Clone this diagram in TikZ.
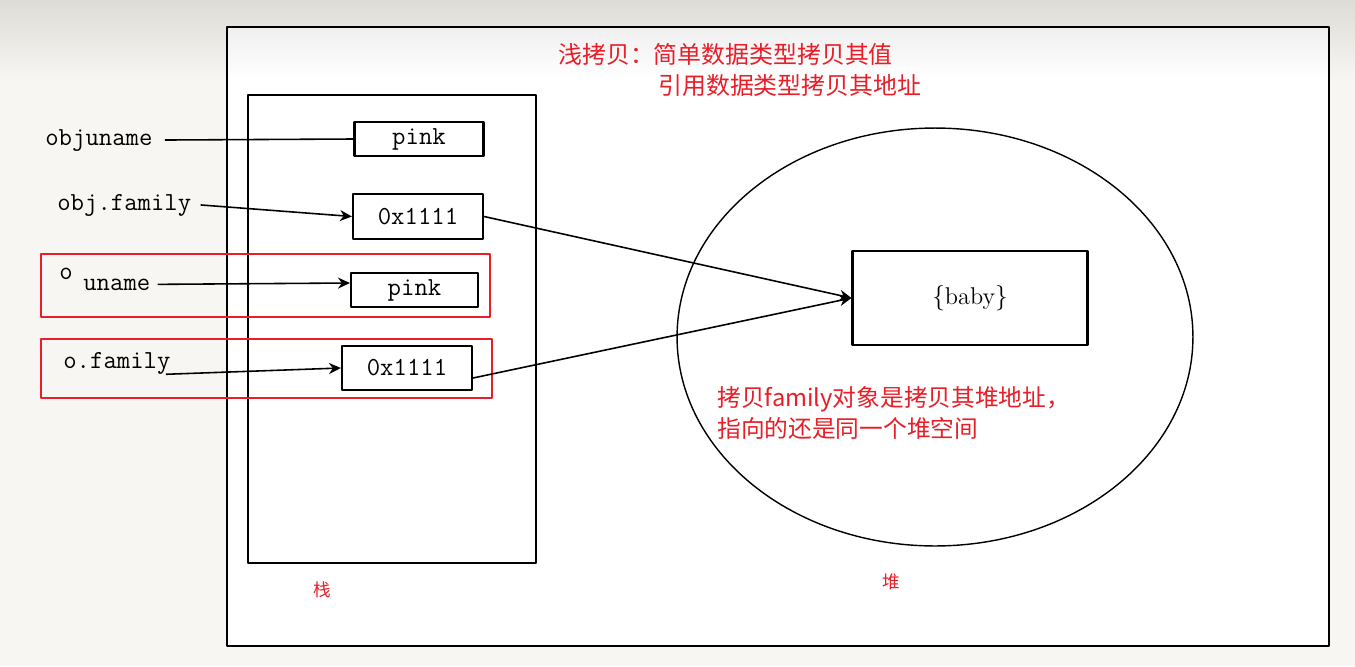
\documentclass[tikz,border=0pt]{standalone}
\usepackage{fontspec}
\newfontfamily\cjk{Noto Sans CJK SC}
\usetikzlibrary{arrows.meta}
\definecolor{notered}{RGB}{232,30,40}
\definecolor{pagebg}{RGB}{248,246,242}
\definecolor{pagetop}{RGB}{222,220,215}
\tikzset{
  cell/.style={draw, line width=1.2pt, inner sep=0pt, font=\fontsize{14.8}{16}\ttfamily},
  var/.style={anchor=base west, inner sep=0pt, font=\fontsize{14.8}{16}\ttfamily},
  note/.style={anchor=base west, inner sep=0pt, text=notered, font=\fontsize{13.5}{16}\cjk},
  group/.style={draw=notered, line width=1.1pt},
  link/.style={line width=0.9pt, -{Stealth[length=0.24cm,width=0.22cm]}},
}
\begin{document}
\begin{tikzpicture}[x=0.02cm, y=-0.02cm, line join=round]
			
			\useasboundingbox (0,0) rectangle (1355,666);
			\fill[pagebg] (0,0) rectangle (1355,666);
			\shade[top color=pagetop, bottom color=pagebg] (0,0) rectangle (1355,80);
			%\draw[gray!10] (0,0) grid[step=50] (1355,666);
			\fill[white] (227,27) rectangle (1329,646);
			\shade[top color=black!6, bottom color=white] (227,27) rectangle (1329,80);
			\draw[line width=1.2pt] (227,27) rectangle (1329,646);
			
			% stack and heap
			\draw[line width=1.2pt] (248,95) rectangle (536,563);
			\draw[line width=0.8pt] (935,337) ellipse (5.16cm and 4.18cm);
			\draw[group] (41,254) rectangle (490,317);
			\draw[group] (41,339) rectangle (492,398);
			
			\node[cell, minimum width=2.58cm, minimum height=0.68cm] (pinkA) at (419,139) {pink};
			\node[cell, minimum width=2.6cm, minimum height=0.9cm] (addrA) at (418,216.5) {0x1111};
			\node[cell, minimum width=2.54cm, minimum height=0.68cm] (pinkB) at (414.5,290) {pink};
			\node[cell, minimum width=2.6cm, minimum height=0.88cm] (addrB) at (407,368) {0x1111};
			\node[cell, font=\fontsize{13.8}{16}\selectfont, minimum width=4.7cm, minimum height=1.88cm] (baby) at (970,298) {$\{$baby$\}$};
			
			\node[var] (objname) at (45,145) {objuname};
			\node[var] (objfam) at (57,210) {obj.family};
			\node[var] (oo) at (59,279) {o};
			\node[var] (oname) at (83,290) {uname};
			\node[var] (ofam) at (63,368) {o.family};
			
			\draw[line width=0.9pt] ([xshift=0.24cm]objname.east) -- (pinkA.west);
			\draw[link] ([xshift=0.18cm]objfam.east) -- (addrA.west);
			\draw[link] ([xshift=0.14cm]oname.east) -- ([yshift=0.14cm]pinkB.west);
			\draw[link] ([xshift=-0.1cm]ofam.south east) -- (addrB.west);
			\draw[link] (addrA.east) -- (baby.west);
			\draw[link] ([yshift=-0.2cm]addrB.east) -- (baby.west);
			
			\node[note, font=\fontsize{13.6}{16}\cjk] (title1) at (558,63) {浅拷贝：简单数据类型拷贝其值};
			\node[note, font=\fontsize{13.6}{16}\cjk] (title2) at (658,94) {引用数据类型拷贝其地址};
			\node[note] (tip1) at (717,406) {拷贝family对象是拷贝其堆地址，};
			\node[note] (tip2) at (717,437) {指向的还是同一个堆空间};
			\node[note, font=\fontsize{10}{12}\cjk] (stacklbl) at (313,596) {栈};
			\node[note, font=\fontsize{10}{12}\cjk] (heaplbl) at (882,588) {堆};
	\end{tikzpicture}
\end{document}
